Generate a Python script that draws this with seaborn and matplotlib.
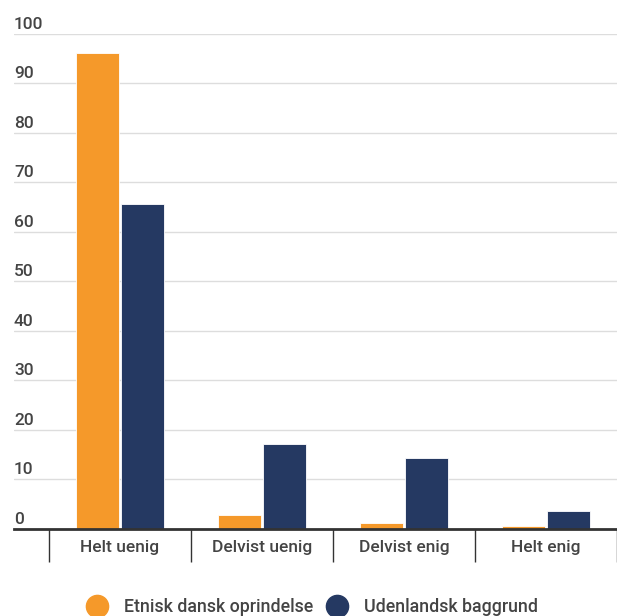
import numpy as np
import pandas as pd
import matplotlib
matplotlib.use("Agg")
import matplotlib.pyplot as plt
import seaborn as sns
from matplotlib.lines import Line2D

## Data

categories = ["Helt uenig", "Delvist uenig", "Delvist enig", "Helt enig"]
groups = ["Etnisk dansk oprindelse", "Udenlandsk baggrund"]
etnisk_dansk = [96.0, 2.8, 1.2, 0.7]
udenlandsk = [65.5, 17.1, 14.3, 3.7]
y_ticks = [0, 10, 20, 30, 40, 50, 60, 70, 80, 90, 100]

colors = ["#F5992A", "#253962"]
text_color = "#444444"

df = pd.DataFrame({
    "kategori": categories * 2,
    "gruppe": [groups[0]] * 4 + [groups[1]] * 4,
    "andel": etnisk_dansk + udenlandsk,
})

## Figur

sns.set_style("white")
plt.rcParams["font.family"] = ["Roboto", "DejaVu Sans"]
plt.rcParams["font.weight"] = 500

fig = plt.figure(figsize=(6.17, 6.16), dpi=100)
ax = fig.add_axes([14 / 617, 87 / 616, 603 / 617, (529 - 33.5) / 616])

sns.barplot(data=df, x="kategori", y="andel", hue="gruppe", order=categories,
            hue_order=groups, palette=colors, saturation=1, width=0.63,
            gap=0.04, edgecolor="white", linewidth=0.6, ax=ax, legend=False)

ax.set_xlim(-0.746, 3.5)
ax.set_ylim(0, 100)
ax.set_xlabel("")
ax.set_ylabel("")

# gitterlinjer og y-etiketter over linjerne
ax.set_yticks(y_ticks)
ax.set_yticklabels([])
ax.tick_params(axis="y", length=0)
for v in y_ticks[1:]:
    ax.axhline(v, color="#dddddd", linewidth=1, zorder=0)
for v in y_ticks:
    ax.text(0.0, v + 1.0, str(v), transform=ax.get_yaxis_transform(),
            ha="left", va="baseline", fontsize=12.5, color=text_color)

# x-akse med skillestreger mellem kategorierne
for s in ["top", "right", "left"]:
    ax.spines[s].set_visible(False)
ax.spines["bottom"].set_color("#333333")
ax.spines["bottom"].set_linewidth(2)
ax.set_xticks(range(len(categories)))
ax.set_xticklabels(categories, fontsize=12.5, color=text_color)
ax.tick_params(axis="x", which="major", length=0, pad=8)
ax.set_xticks(np.arange(-0.5, len(categories), 1), minor=True)
ax.tick_params(axis="x", which="minor", bottom=True, length=24, width=1,
               color="#333333")

# legende
handles = [Line2D([0], [0], marker="o", linestyle="", markersize=16,
                  markerfacecolor=c, markeredgecolor=c) for c in colors]
fig.legend(handles, groups, loc="lower center", bbox_to_anchor=(0.5, -0.026),
           ncol=2, frameon=False, fontsize=12.8, labelcolor=text_color,
           handletextpad=0.5, columnspacing=0.36)

plt.savefig("out.png", dpi=100)
